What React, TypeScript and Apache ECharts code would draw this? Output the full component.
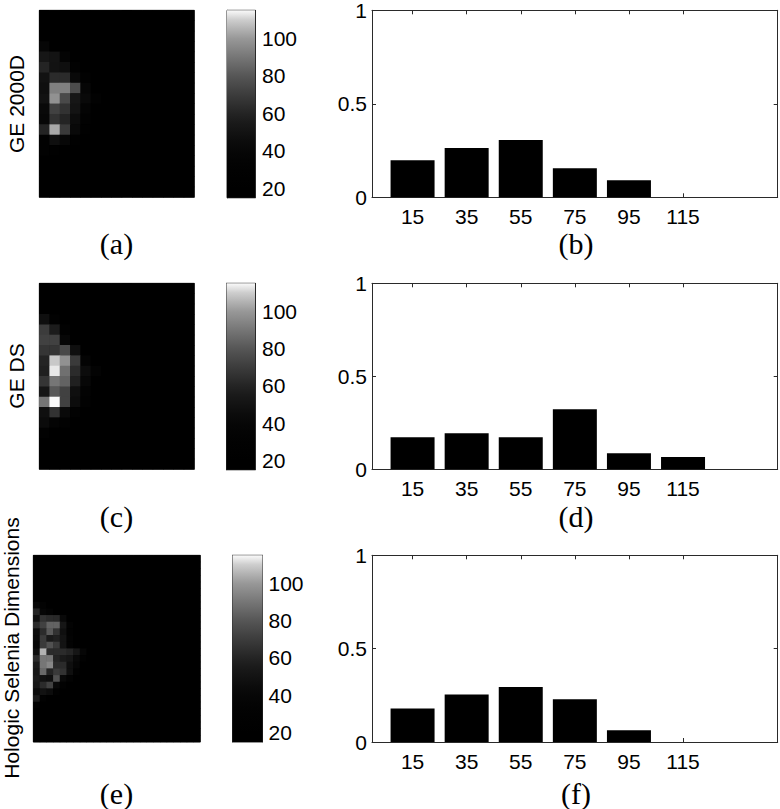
import React, { useEffect, useRef } from "react";
import * as echarts from "echarts";

const binCenters = [15, 35, 55, 75, 95, 115];
const barsB = [0.198, 0.264, 0.307, 0.155, 0.091, 0];
const barsD = [0.172, 0.194, 0.172, 0.323, 0.086, 0.066];
const barsF = [0.179, 0.255, 0.295, 0.229, 0.0625, 0];
const yTicks = [0, 0.5, 1];
const colorbarTicks = [20, 40, 60, 80, 100];

// gray level of the colour bar every 5 units from 15 to 115
const grayLevels = [0, 0, 1, 2, 4, 7, 12, 19, 26, 36, 48, 60, 73, 86, 102, 118, 135, 152, 178, 206, 250];

const background = 15;
// rows hold only the non-background cells, from the left edge
const cellsA: number[][] = [
  [], [], [],
  [38],
  [52, 50, 34],
  [60, 49, 47, 28],
  [49, 63, 63, 42, 28],
  [47, 93, 93, 76, 38],
  [49, 98, 75, 52, 42, 28],
  [42, 72, 66, 50, 34],
  [40, 66, 60, 45, 28],
  [60, 103, 69, 42, 25],
  [30, 47, 40, 25],
  [28, 25],
  [], [], [], [],
];
const cellsC: number[][] = [
  [], [], [],
  [47, 30],
  [70, 56, 28],
  [72, 72, 40],
  [67, 67, 75, 47],
  [60, 109, 98, 69, 34],
  [58, 113, 88, 63, 45, 32],
  [67, 90, 84, 58, 40],
  [52, 81, 72, 47, 32],
  [90, 115, 72, 45, 28],
  [47, 66, 42, 28],
  [44, 34, 28],
  [28],
  [], [], [],
];
const cellsE: number[][] = [
  [], [], [], [], [], [], [],
  [40, 32],
  [60, 38, 32],
  [47, 66, 63, 62, 42],
  [63, 72, 84, 84, 52, 32],
  [44, 63, 81, 66, 47, 28],
  [42, 69, 55, 58, 50, 32],
  [40, 69, 78, 69, 50, 32],
  [47, 105, 63, 63, 63, 60, 52, 38],
  [63, 90, 90, 60, 55, 52, 42, 28],
  [55, 90, 95, 63, 63, 47, 38],
  [52, 86, 60, 69, 66, 47, 28],
  [55, 49, 47, 78, 42, 32],
  [52, 63, 72, 42, 28],
  [44, 49, 45, 28],
  [55, 28],
  [28],
  [], [], [], [], [],
];

const SANS = "Liberation Sans";
const SERIF = "Liberation Serif";
const LINE = "#2a2a2a";
const TICK_SIZE = 21;

const grayColor = (g: number) => `rgb(${g},${g},${g})`;

function buildOption() {
  const grid: any[] = [];
  const xAxis: any[] = [];
  const yAxis: any[] = [];
  const series: any[] = [];
  const visualMap: any[] = [];

  const addHeat = (cells: number[][], cols: number, left: number, top: number, w: number, h: number) => {
    const g = grid.length;
    grid.push({ left, top, width: w, height: h, show: true, backgroundColor: "#000", borderColor: "#4a4a4a", borderWidth: 1, outerBoundsMode: "none" });
    const xIdx = xAxis.length;
    const yIdx = yAxis.length;
    xAxis.push({ type: "category", gridIndex: g, show: false, data: Array.from({ length: cols }, (_, i) => i) });
    yAxis.push({ type: "category", gridIndex: g, show: false, inverse: true, data: cells.map((_, i) => i) });
    const data: number[][] = [];
    cells.forEach((row, r) => {
      for (let c = 0; c < cols; c++) data.push([c, r, c < row.length ? row[c] : background]);
    });
    const sIdx = series.length;
    series.push({ type: "heatmap", xAxisIndex: xIdx, yAxisIndex: yIdx, data, silent: true, itemStyle: { borderWidth: 0 } });
    visualMap.push({ show: false, type: "continuous", seriesIndex: sIdx, min: 15, max: 115, inRange: { color: grayLevels.map(grayColor) } });
  };

  const addColorbar = (left: number, top: number, w: number, h: number, margin: number) => {
    const g = grid.length;
    grid.push({ left, top, width: w, height: h, show: true, backgroundColor: "#000", borderColor: LINE, borderWidth: 1, outerBoundsMode: "none" });
    const xIdx = xAxis.length;
    const yIdx = yAxis.length;
    xAxis.push({ type: "category", gridIndex: g, show: false, data: ["bar"] });
    const common = { type: "value", gridIndex: g, min: 15, max: 115, splitLine: { show: false }, axisLine: { show: true, lineStyle: { color: LINE, width: 1 } } };
    yAxis.push({
      ...common,
      position: "right",
      axisTick: { show: true, inside: true, length: 4, customValues: colorbarTicks, lineStyle: { color: LINE } },
      axisLabel: { show: true, customValues: colorbarTicks, margin, color: "#000", fontFamily: SANS, fontSize: TICK_SIZE },
    });
    yAxis.push({
      ...common,
      position: "left",
      axisTick: { show: true, inside: true, length: 4, customValues: colorbarTicks, lineStyle: { color: LINE } },
      axisLabel: { show: false },
    });
    const stops = grayLevels.map((gray, i) => ({ offset: 1 - i / (grayLevels.length - 1), color: grayColor(gray) })).reverse();
    series.push({
      type: "bar",
      xAxisIndex: xIdx,
      yAxisIndex: yIdx,
      data: [115],
      barWidth: "100%",
      silent: true,
      z: 1,
      itemStyle: { color: new echarts.graphic.LinearGradient(0, 0, 0, 1, stops) },
    });
  };

  const addBars = (values: number[], top: number, h: number) => {
    const g = grid.length;
    grid.push({ left: 372, top, width: 405.7, height: h, show: false, outerBoundsMode: "none" });
    const xIdx = xAxis.length;
    const yIdx = yAxis.length;
    const lineStyle = { color: LINE, width: 1 };
    const xCommon = {
      type: "value", gridIndex: g, min: 0, max: 150, splitLine: { show: false },
      axisLine: { show: true, onZero: false, lineStyle },
      axisTick: { show: true, inside: true, length: 4, customValues: binCenters, lineStyle },
    };
    xAxis.push({
      ...xCommon,
      position: "bottom",
      axisLabel: { show: true, customValues: binCenters, margin: 9, color: "#000", fontFamily: SANS, fontSize: TICK_SIZE },
    });
    xAxis.push({ ...xCommon, position: "top", axisLabel: { show: false } });
    const yCommon = {
      type: "value", gridIndex: g, min: 0, max: 1, interval: 0.5, splitLine: { show: false },
      axisLine: { show: true, onZero: false, lineStyle },
      axisTick: { show: true, inside: true, length: 4, lineStyle },
    };
    yAxis.push({
      ...yCommon,
      position: "left",
      axisLabel: { show: true, margin: 5, color: "#000", fontFamily: SANS, fontSize: TICK_SIZE, customValues: yTicks },
    });
    yAxis.push({ ...yCommon, position: "right", axisLabel: { show: false } });
    series.push({
      type: "bar",
      xAxisIndex: xIdx,
      yAxisIndex: yIdx,
      barWidth: 44,
      silent: true,
      itemStyle: { color: "#000" },
      data: binCenters.map((c, i) => [c, values[i]]),
    });
  };

  addHeat(cellsA, 15, 39.3, 10.3, 155, 187);
  addColorbar(227, 10.3, 28, 187.5, 7);
  addBars(barsB, 10.3, 187);

  addHeat(cellsC, 15, 39.3, 283.3, 155, 186);
  addColorbar(226.5, 283.3, 28.5, 186.5, 7);
  addBars(barsD, 283.3, 186);

  addHeat(cellsE, 25, 33.3, 555.3, 167, 186.7);
  addColorbar(232.5, 555.3, 30, 186.7, 6);
  addBars(barsF, 555.3, 186.7);

  const caption = (text: string, x: number, y: number) => ({
    type: "text", x, y, silent: true,
    style: { text, fontFamily: SERIF, fontSize: 30, fill: "#000", textAlign: "center", textVerticalAlign: "middle" },
  });
  const sideLabel = (text: string, x: number, y: number) => ({
    type: "text", x, y, rotation: Math.PI / 2, silent: true,
    style: { text, fontFamily: SANS, fontSize: 21, fill: "#000", textAlign: "center", textVerticalAlign: "middle" },
  });

  return {
    animation: false,
    backgroundColor: "#fff",
    grid, xAxis, yAxis, series, visualMap,
    graphic: [
      sideLabel("GE 2000D", 16, 104),
      sideLabel("GE DS", 16, 376),
      sideLabel("Hologic Selenia Dimensions", 11.5, 648),
      caption("(a)", 116.5, 243),
      caption("(b)", 576, 243),
      caption("(c)", 116.5, 516),
      caption("(d)", 576, 516),
      caption("(e)", 116.5, 793),
      caption("(f)", 576, 793),
    ],
  };
}

export default function App() {
  const ref = useRef<HTMLDivElement>(null);
  useEffect(() => {
    const chart = echarts.init(ref.current!, undefined, { renderer: "svg" });
    chart.setOption(buildOption() as any);
    return () => chart.dispose();
  }, []);
  return <div ref={ref} style={{ position: "absolute", left: 0, top: 0, width: 780, height: 809 }} />;
}
